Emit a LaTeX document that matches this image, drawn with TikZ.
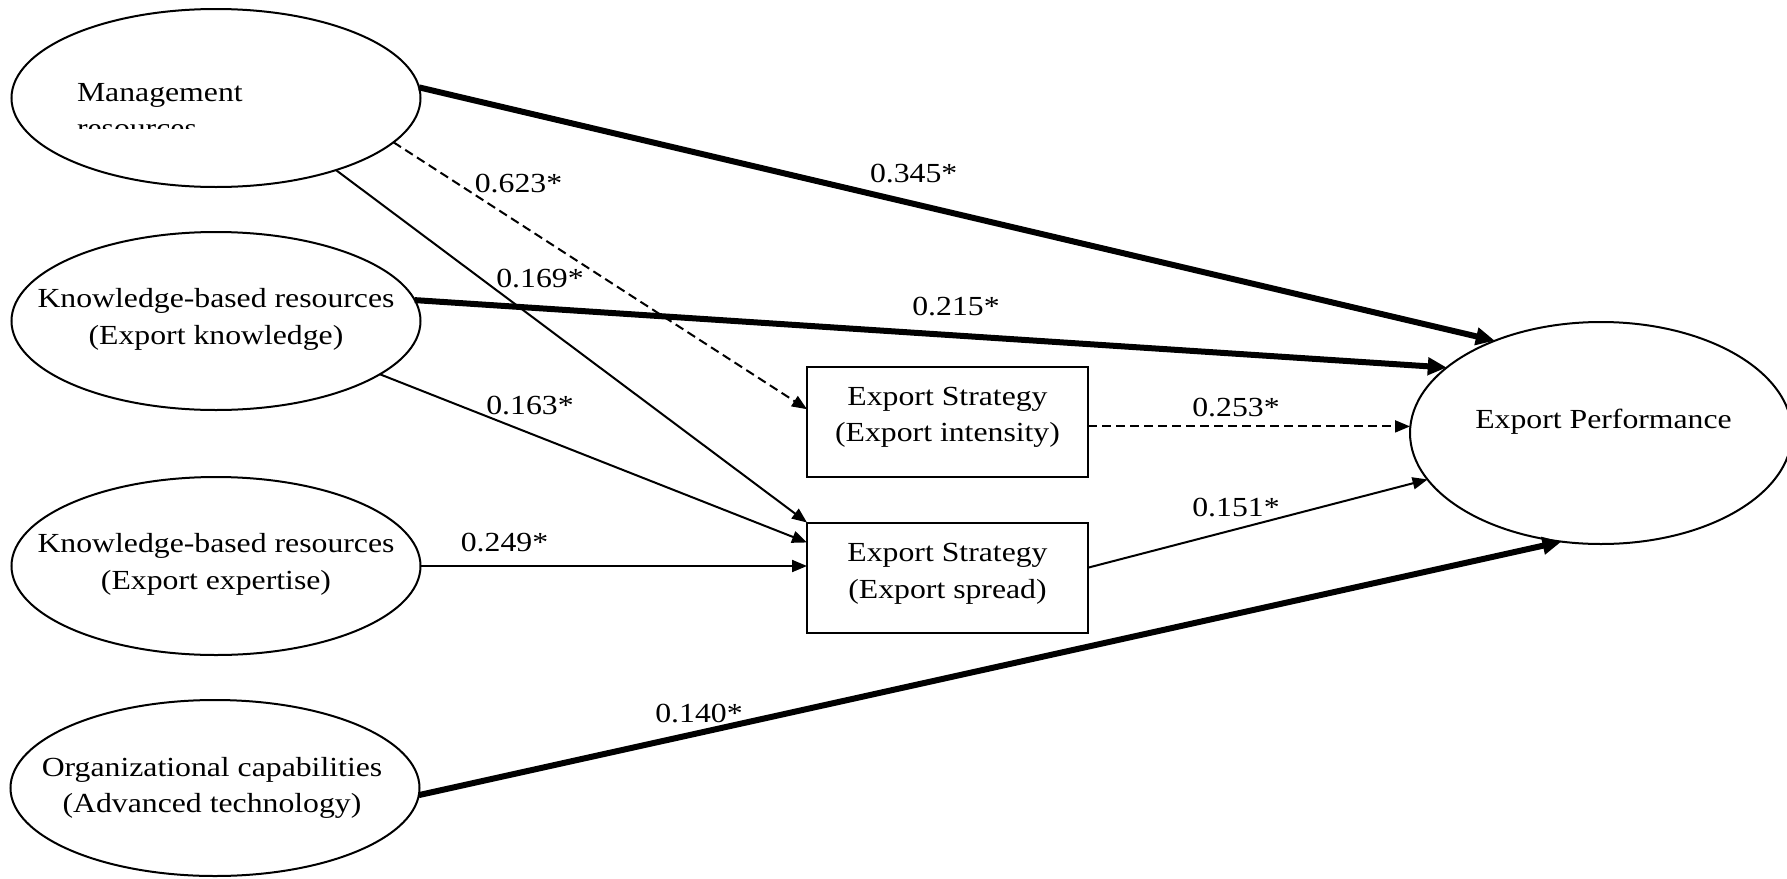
\documentclass[tikz,border=0pt]{standalone}
\usepackage{fontspec}
\setmainfont{Liberation Serif}[FakeStretch=1.15]
\usetikzlibrary{arrows.meta,shapes.geometric,calc}
\begin{document}
\begin{tikzpicture}[x=1pt,y=-1pt,
  every node/.style={font=\fontsize{27.6}{36.7}\selectfont, inner sep=0pt, outer sep=0pt},
  ell/.style={draw, ellipse, line width=2pt, minimum width=409pt, minimum height=178pt},
  sbox/.style={draw, rectangle, line width=2pt, minimum width=281pt, minimum height=110pt},
  txt/.style={align=center},
  thinarr/.style={line width=2pt, -{Triangle[length=15pt,width=12pt]}},
  thickarr/.style={line width=6pt, -{Triangle[length=19pt,width=17pt]}},
  dsharr/.style={thinarr, dash pattern=on 9pt off 5pt}]
\useasboundingbox (0,0) rectangle (1787,878);
% shapes
\node[ell] (mgmt) at (216,98) {};
\node[ell] (kb1) at (216,321) {};
\node[ell] (kb2) at (216,566) {};
\node[ell, minimum height=176pt] (org) at (215,788) {};
\node[ell, minimum width=382pt, minimum height=222pt] (perf) at (1601,433) {};
\node[sbox] (intens) at (947.5,421.5) {};
\node[sbox] (spread) at (947.5,577.5) {};
% texts
\node[anchor=base west] (mgmtT) at (77,101) {Management};
\begin{scope}
  \clip (60,110) rectangle (260,128.5);
  \node[anchor=base west] (mgmtT2) at (77,137.5) {resources};
\end{scope}
\node[txt] (kb1T) at (216,319.3) {Knowledge-based resources\\(Export knowledge)};
\node[txt] (kb2T) at (216,564.4) {Knowledge-based resources\\(Export expertise)};
\node[txt] (orgT) at (212,788) {Organizational capabilities\\(Advanced technology)};
\node[txt] (intensT) at (947.5,417.2) {Export Strategy\\(Export intensity)};
\node[txt] (spreadT) at (947.5,573.7) {Export Strategy\\(Export spread)};
\node (perfT) at (1603.5,421.5) {Export Performance};
% connectors
\draw[thickarr] (mgmt.3) -- (perf.139);
\draw[dsharr] (mgmt.-14) -- (intens.175);
\draw[thinarr] (mgmt.-31) -- (spread.north west);
\draw[thickarr] (kb1.6) -- (perf.157.5);
\draw[thinarr] (kb1.-18) -- (spread.166);
\draw[thinarr] (kb2.east) -- (kb2.east -| spread.west);
\draw[dsharr] (intens.-2) -- (intens.-2 -| perf.west);
\draw[thinarr] (spread.4) -- (perf.-165);
\draw[thickarr] (org.-2) -- (perf.-110);
% labels
\node (l345) at (913.7,173.3) {0.345*};
\node (l623) at (518.5,183.5) {0.623*};
\node (l169) at (540,279) {0.169*};
\node (l215) at (956,306.7) {0.215*};
\node (l163) at (530,406) {0.163*};
\node (l253) at (1236,407.5) {0.253*};
\node (l151) at (1236,508) {0.151*};
\node (l249) at (504.5,542.5) {0.249*};
\node (l140) at (699,714) {0.140*};
\end{tikzpicture}
\end{document}
